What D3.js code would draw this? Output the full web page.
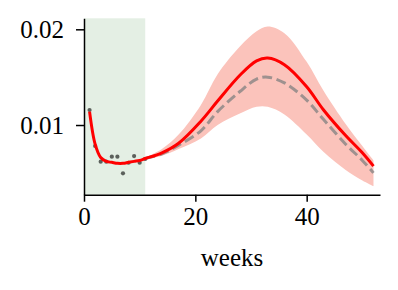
<!DOCTYPE html>
<html><head><meta charset="utf-8">
<script src="https://cdn.jsdelivr.net/npm/d3@7"></script>
<style>html,body{margin:0;padding:0;background:#fff;}svg{display:block;}</style>
</head><body>
<svg id="chart" width="398" height="290"></svg>
<script>
// observed weekly data
const obsWeeks = [1,2,3,4,5,6,7,8,9,10,11];
const obsValues = [0.01157,0.00781,0.00617,0.00617,0.00669,0.00669,0.00495,0.00606,0.00676,0.00606,0.00645];
// fitted model (red)
const fitWeeks = [1,2,3,4,5,6,7,8,9,10,11,14,17,21,24,28,31,33,36,40,43,47,50,52];
const fitValues = [0.0114,0.0080,0.0066,0.0062,0.0061,0.0060,0.0060,0.0061,0.0062,0.0063,0.0065,0.0071,0.0081,0.0104,0.0125,0.0152,0.0167,0.0170,0.0163,0.0140,0.0116,0.0089,0.0071,0.0057];
// forecast median (dashed) and band
const fcWeeks = [11,14,17,21,24,28,31,33,36,40,43,47,50,52];
const fcMedian = [0.0065,0.0070,0.0079,0.0094,0.0114,0.0135,0.0148,0.0150,0.0144,0.0126,0.0106,0.0080,0.0063,0.0050];
const fcUpper = [0.0066,0.0075,0.0090,0.0121,0.0153,0.0182,0.0198,0.0203,0.0196,0.0166,0.0136,0.0101,0.0078,0.0063];
const fcLower = [0.0064,0.0068,0.0075,0.0086,0.0100,0.0112,0.0119,0.0119,0.0111,0.0090,0.0072,0.0053,0.0042,0.0036];
const shadeRange = [0, 11];
const xTicks = [0,20,40];
const yTicks = [0.01,0.02];
const xLabel = "weeks";

const svg = d3.select("#chart");
const m = {left:84, top:18.3, right:18, bottom:95.3};
const W = 398 - m.left - m.right, H = 290 - m.top - m.bottom;
const x = d3.scaleLinear().domain([0, 53.17]).range([m.left, m.left+W]);
const y = d3.scaleLinear().domain([0.00272, 0.02115]).range([m.top+H, m.top]);
const font = "'Liberation Serif','DejaVu Serif',serif";

svg.append("rect").attr("x", x(shadeRange[0])).attr("y", m.top)
  .attr("width", x(shadeRange[1]) - x(shadeRange[0])).attr("height", H)
  .attr("fill", "#e4efe4");

const band = fcWeeks.map((w,i)=>({w, lo:fcLower[i], hi:fcUpper[i]}));
svg.append("path").datum(band)
  .attr("d", d3.area().x(d=>x(d.w)).y0(d=>y(d.lo)).y1(d=>y(d.hi)).curve(d3.curveCatmullRom))
  .attr("fill", "#fbc3bb");

svg.selectAll("circle.obs").data(obsWeeks.map((w,i)=>({w, v:obsValues[i]}))).enter()
  .append("circle").attr("class","obs")
  .attr("cx", d=>x(d.w)).attr("cy", d=>y(d.v)).attr("r", 2.1)
  .attr("fill", "#000").attr("fill-opacity", 0.6);

svg.append("path").datum(fcWeeks.map((w,i)=>({w, v:fcMedian[i]})))
  .attr("d", d3.line().x(d=>x(d.w)).y(d=>y(d.v)).curve(d3.curveCatmullRom))
  .attr("fill","none").attr("stroke","#808080").attr("stroke-opacity",0.75)
  .attr("stroke-width",3).attr("stroke-dasharray","10,4.5");

svg.append("path").datum(fitWeeks.map((w,i)=>({w, v:fitValues[i]})))
  .attr("d", d3.line().x(d=>x(d.w)).y(d=>y(d.v)).curve(d3.curveCatmullRom))
  .attr("fill","none").attr("stroke","#ff0000").attr("stroke-width",3);

const xAxis = svg.append("g").attr("transform", `translate(0,${m.top+H})`)
  .call(d3.axisBottom(x).tickValues(xTicks).tickSize(7).tickPadding(6).tickSizeOuter(0).tickFormat(d3.format("d")));
const yAxis = svg.append("g").attr("transform", `translate(${m.left},0)`)
  .call(d3.axisLeft(y).tickValues(yTicks).tickSize(8).tickPadding(12).tickSizeOuter(0).tickFormat(d3.format(".2f")));
[xAxis, yAxis].forEach(g=>{
  g.select(".domain").attr("stroke","#000").attr("stroke-width",1.5);
  g.selectAll(".tick line").attr("stroke","#000").attr("stroke-width",1.5);
  g.selectAll("text").attr("font-family", font).attr("font-size", 25).attr("fill","#000");
});

svg.append("text").attr("x", x(0)+W/2).attr("y", 266).attr("text-anchor","middle")
  .attr("font-family", font).attr("font-size", 25).attr("fill","#000").text(xLabel);
</script>
</body></html>
